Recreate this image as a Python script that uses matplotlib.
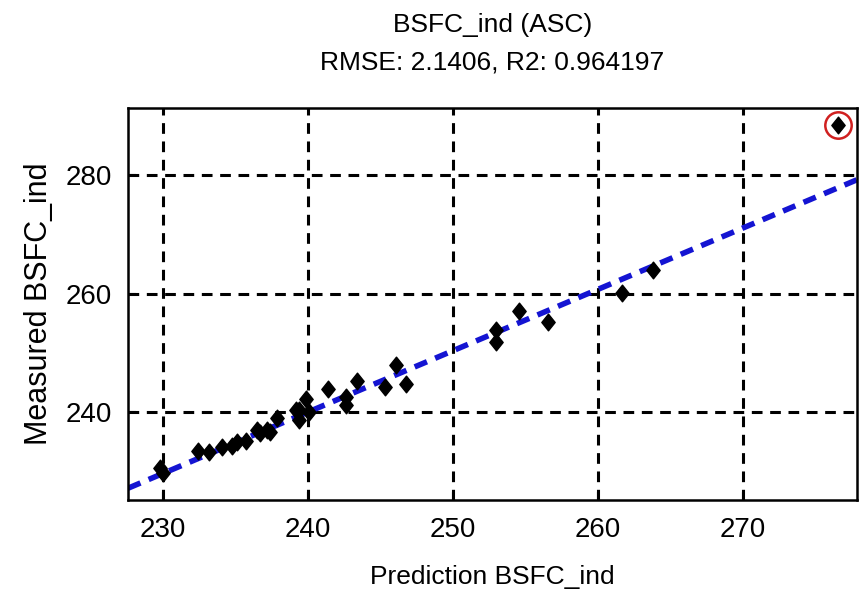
import matplotlib
matplotlib.use("Agg")
import matplotlib.pyplot as plt
from matplotlib.path import Path

plt.rcParams['font.family'] = ['Liberation Sans Narrow', 'Liberation Sans', 'DejaVu Sans']

# Data (prediction, measured)
pred = [229.8, 230.0, 232.4, 233.2, 234.1, 234.8, 235.1, 235.7, 236.5, 236.7,
        237.2, 237.4, 237.9, 239.2, 239.4, 239.4, 239.9, 240.1, 241.4, 242.6,
        242.6, 243.4, 245.3, 246.1, 246.8, 253.0, 253.0, 254.6, 256.6, 261.7,
        263.8]
meas = [230.6, 229.7, 233.4, 233.3, 234.1, 234.3, 234.9, 235.1, 237.0, 236.5,
        237.0, 236.6, 239.0, 240.3, 238.7, 240.3, 242.3, 240.0, 244.0, 242.5,
        241.2, 245.2, 244.2, 247.9, 244.7, 251.8, 253.8, 257.0, 255.2, 260.1,
        264.0]
outlier_pred = [276.6]
outlier_meas = [288.4]
fit_x = [227.6, 277.9]
fit_y = [227.2, 279.2]

x_ticks = [230, 240, 250, 260, 270]
y_ticks = [240, 260, 280]
title = "BSFC_ind (ASC)\nRMSE: 2.1406, R2: 0.964197"

diamond = Path([(0, 1), (0.8, 0), (0, -1), (-0.8, 0), (0, 1)],
               [Path.MOVETO, Path.LINETO, Path.LINETO, Path.LINETO, Path.CLOSEPOLY])

fig = plt.figure(figsize=(8.66, 5.90), dpi=100)
ax = fig.add_axes([0.148, 0.1525, 0.8416, 0.6645])

ax.plot(fit_x, fit_y, color='#1414d2', lw=4, ls=(0, (2.4, 1.6)), zorder=2)
ax.plot(pred, meas, ls='none', marker=diamond, ms=12, color='black', zorder=3)
ax.plot(outlier_pred, outlier_meas, ls='none', marker=diamond, ms=12, color='black', zorder=3)
ax.plot(outlier_pred, outlier_meas, ls='none', marker='o', ms=19, mfc='none',
        mec='#d02020', mew=1.8, zorder=4)

ax.set_xlim(227.6, 277.9)
ax.set_ylim(225.2, 291.3)
ax.set_xticks(x_ticks)
ax.set_yticks(y_ticks)
ax.grid(True, color='black', ls=(0, (3.5, 2.5)), lw=2.2)
ax.tick_params(direction='in', length=6, width=1.5, labelsize=20, pad=12)
for s in ax.spines.values():
    s.set_linewidth(1.8)

ax.set_xlabel("Prediction BSFC_ind", fontsize=19, labelpad=16)
ax.set_ylabel("Measured BSFC_ind", fontsize=22, labelpad=8)
ax.set_title(title, fontsize=19, pad=28, linespacing=1.7)

fig.savefig("out.png", dpi=100)
